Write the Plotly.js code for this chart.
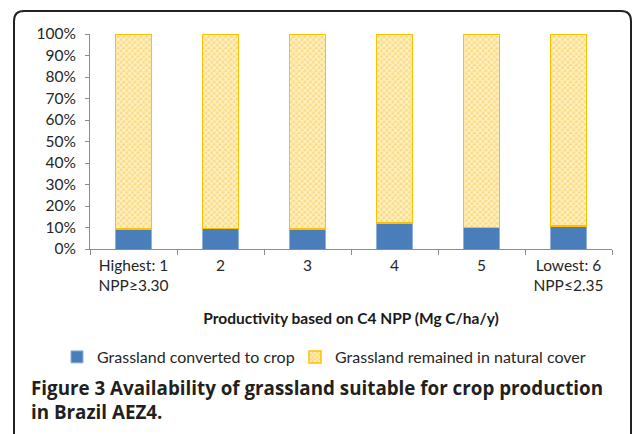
<!DOCTYPE html>
<html>
<head>
<meta charset="utf-8">
<script src="https://cdn.plot.ly/plotly-3.0.1.min.js"></script>
<style>html,body{margin:0;padding:0;background:#fff;}#chart{width:633px;height:434px;}</style>
</head>
<body>
<div id="chart"></div>
<script>
var categories = ["Highest: 1<br>NPP≥3.30", "2", "3", "4", "5", "Lowest: 6<br>NPP≤2.35"];
var converted = [0.092, 0.096, 0.092, 0.122, 0.099, 0.107];
var remained = [0.908, 0.904, 0.908, 0.878, 0.901, 0.893];
var seriesNames = ["Grassland converted to crop", "Grassland remained in natural cover"];
var xTitle = "Productivity based on C4 NPP (Mg C/ha/y)";
var captionLine1 = "<b>Figure 3 Availability of grassland suitable for crop production</b>";
var captionLine2 = "<b>in Brazil AEZ4.</b>";

var L = 90, R = 612, T = 34, B = 249;
function px(x){ return (x - L) / (R - L); }
function py(y){ return (B - y) / (B - T); }

var traces = [
  {
    type: "bar", x: categories, y: converted, name: seriesNames[0], legend: "legend",
    marker: {color: "#4a7ebb", line: {color: "#8eb0dd", width: 1}},
    width: 0.41
  },
  {
    type: "bar", x: categories, y: remained, name: seriesNames[1], legend: "legend2",
    marker: {color: "#fde39a", line: {color: "#ffc000", width: 1.5},
      pattern: {shape: "x", bgcolor: "#fddc80", fgcolor: "#fff6dc", size: 4, solidity: 0.45}},
    width: 0.41
  }
];

var r = 10;
var x0 = px(14), y0 = py(11), x1 = px(631), y1 = py(445);
var rx = r / (R - L), ry = r / (B - T);
var border = "M " + x0 + "," + y1 + " L " + x0 + "," + (y0 - ry) +
  " Q " + x0 + "," + y0 + " " + (x0 + rx) + "," + y0 +
  " L " + (x1 - rx) + "," + y0 + " Q " + x1 + "," + y0 + " " + x1 + "," + (y0 - ry) +
  " L " + x1 + "," + y1;

var legendBase = {orientation: "h", xanchor: "left", y: py(340), yanchor: "top",
  font: {size: 16, color: "#262626"}, itemwidth: 30, bgcolor: "rgba(0,0,0,0)"};

var layout = {
  width: 633, height: 434,
  margin: {l: L, r: 633 - R, t: T, b: 434 - B, pad: 0},
  barmode: "stack",
  paper_bgcolor: "#ffffff", plot_bgcolor: "#ffffff",
  font: {family: "Lato, 'Open Sans', sans-serif", size: 15.5, color: "#262626"},
  xaxis: {
    type: "category", showline: true, linecolor: "#8c8c8c", linewidth: 1,
    ticks: "outside", tickson: "boundaries", ticklen: 5, tickcolor: "#8c8c8c",
    showgrid: false, zeroline: false, automargin: false, ticklabelstandoff: 2,
    tickfont: {size: 15.5, color: "#262626"},
    title: {text: "<b>" + xTitle + "</b>", font: {size: 15.5, color: "#1a1a1a"}, standoff: 20}
  },
  yaxis: {
    range: [0, 1], dtick: 0.1, tickformat: ".0%", showline: true, linecolor: "#8c8c8c",
    ticks: "outside", ticklen: 4, tickcolor: "#8c8c8c", showgrid: false, zeroline: false,
    automargin: false, tickfont: {size: 15.5, color: "#262626"}, fixedrange: true,
    ticklabelstandoff: 6
  },
  showlegend: true,
  legend: Object.assign({}, legendBase, {x: px(57)}),
  legend2: Object.assign({}, legendBase, {x: px(295)}),
  shapes: [{type: "path", xref: "paper", yref: "paper", path: border,
    line: {color: "#222222", width: 2}}],
  annotations: [
    {xref: "paper", yref: "paper", x: px(29), y: py(388), xanchor: "left", yanchor: "middle",
     text: captionLine1, showarrow: false, font: {family: "'Open Sans', 'Noto Sans', sans-serif", size: 18.8, color: "#231f20"}},
    {xref: "paper", yref: "paper", x: px(29), y: py(412), xanchor: "left", yanchor: "middle",
     text: captionLine2, showarrow: false, font: {family: "'Open Sans', 'Noto Sans', sans-serif", size: 18.8, color: "#231f20"}}
  ]
};

Plotly.newPlot("chart", traces, layout, {displayModeBar: false, staticPlot: true});
</script>
</body>
</html>
